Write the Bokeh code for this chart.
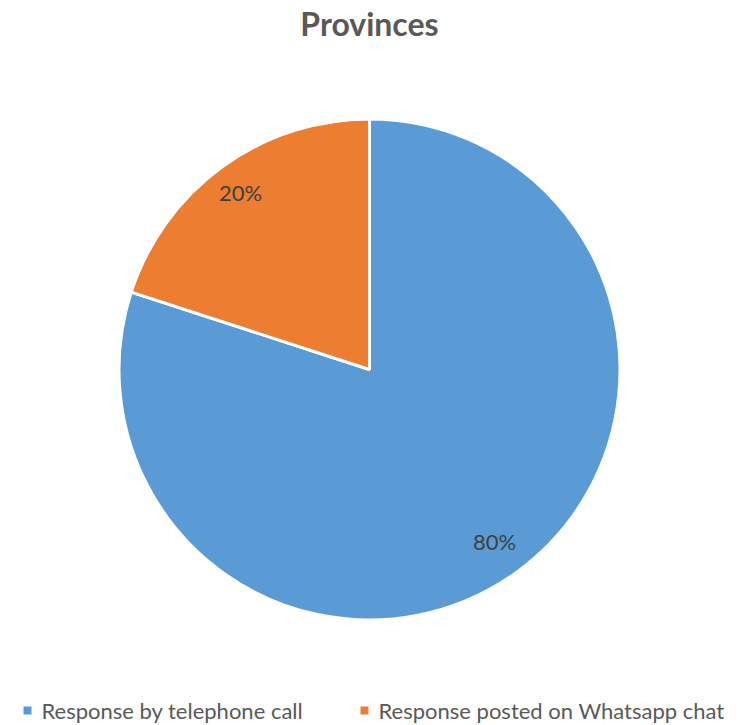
import math
from bokeh.plotting import figure
from bokeh.models import Range1d, ColumnDataSource
from bokeh.core.properties import value
from bokeh.embed import file_html
from bokeh.resources import INLINE

# ---- data ----
categories = ["Response by telephone call", "Response posted on Whatsapp chat"]
shares = [80, 20]
labels = ["80%", "20%"]
colors = ["#5B9BD5", "#ED7D31"]
title_text = "Provinces"

W, H = 738, 725
CX, CY, R = 369, H - 369, 250.5
FONT = "Lato"

p = figure(width=W, height=H, output_backend="svg", toolbar_location=None,
           x_range=Range1d(0, W), y_range=Range1d(0, H), min_border=0)
p.axis.visible = False
p.grid.visible = False
p.outline_line_color = None
p.background_fill_color = "white"
p.border_fill_color = "white"

# pie angles: clockwise from 12 o'clock, in order of categories
total = sum(shares)
starts, ends, lx, ly = [], [], [], []
acc = 0.0
for s in shares:
    a0 = acc / total * 2 * math.pi
    acc += s
    a1 = acc / total * 2 * math.pi
    starts.append(math.pi / 2 - a1)
    ends.append(math.pi / 2 - a0)
    mid = math.pi / 2 - (a0 + a1) / 2
    f = 0.875 if s < 50 else 0.85
    lx.append(CX + f * R * math.cos(mid))
    ly.append(CY + f * R * math.sin(mid))

src = ColumnDataSource(dict(start=starts, end=ends, color=colors, cat=categories,
                            lx=lx, ly=ly, lab=labels))
p.wedge(x=CX, y=CY, radius=R, start_angle="start", end_angle="end",
        fill_color="color", line_color="white", line_width=3, source=src)

p.text(x="lx", y="ly", text="lab", source=src, text_font=value(FONT),
       text_font_size="22px", text_color="#404040",
       text_align="center", text_baseline="middle")

# title
p.text(x=[W / 2], y=[H - 23], text=[title_text], text_font=value(FONT),
       text_font_size="32px", text_font_style="bold", text_color="#595959",
       text_align="center", text_baseline="middle")

# legend (manual, bottom)
leg_sq_x = [27, 364]
leg_tx_x = [41, 378]
leg_y = H - 710
lsrc = ColumnDataSource(dict(sx=leg_sq_x, tx=leg_tx_x, y=[leg_y] * 2,
                             color=colors, cat=categories))
p.rect(x="sx", y="y", width=8, height=8, fill_color="color", line_color=None,
       source=lsrc)
p.text(x="tx", y="y", text="cat", source=lsrc, text_font=value(FONT),
       text_font_size="22px", text_color="#595959",
       text_align="left", text_baseline="middle")

open("out.html", "w").write(file_html(p, INLINE))
